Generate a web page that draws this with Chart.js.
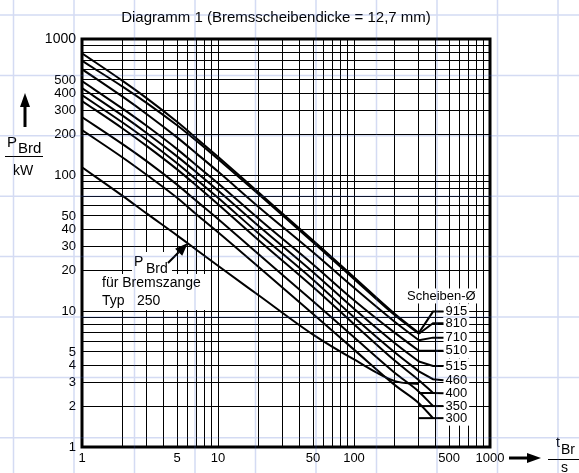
<!DOCTYPE html>
<html>
<head>
<meta charset="utf-8">
<script src="https://cdn.jsdelivr.net/npm/chart.js"></script>
<style>
  body { margin: 0; background: #fff; }
  #wrap { width: 579px; height: 473px; }
</style>
</head>
<body>
<div id="wrap"><canvas id="brakeChart" width="579" height="473"></canvas></div>
<script>
// t_Br in s (x) and P_Brd in kW (y), log-log
const tBr = [1, 2, 3, 5, 7, 10, 20, 50, 100, 200, 300];
const tBrLong = [1, 2, 3, 5, 7, 10, 20, 50, 100, 200, 300, 381];

const discSizes = ['915', '810', '710', '510', '515', '460', '400', '350', '300'];
const p915 = [785, 490, 366, 246, 185, 136, 74, 33, 17.7, 9.5, 6.9];
const p810 = [690, 445, 338, 232, 177, 131, 72, 32, 17.2, 9.3, 6.8];
const p710 = [600, 375, 280, 189, 143, 106, 58, 27, 14.8, 8.3, 6.1];
const p510 = [490, 306, 229, 155, 117, 87, 47.5, 22, 12, 6.9, 5.1];
const p515 = [435, 272, 203, 137, 104, 77, 42, 19.3, 10.4, 5.8, 4.25];
const p460 = [387, 242, 181, 122, 92, 68, 37, 17, 9.0, 4.95, 3.6];
const p400 = [350, 219, 163, 110, 83, 61, 33, 15.0, 8.0, 4.3, 3.1, 2.5];
const p350 = [267, 168, 126, 85, 64, 47.5, 26, 11.8, 6.4, 3.5, 2.55, 2.0];
const p300 = [214, 134, 100, 68, 51, 38, 21, 9.5, 5.2, 2.85, 2.1, 1.63];
const pTyp250 = [114, 70, 52, 36, 28, 21.5, 13, 6.7, 4.4, 3.05, 2.9];

// leaders from curve ends to the size labels
const leaderX = [300, 381, 455];
const leader915 = [6.9, 9.9, 9.9];
const leader810 = [6.8, 8.12, 8.12];
const leader710 = [6.1, 6.37, 6.37];
const leader510 = [5.1, 5.1, 5.1];
const leader515 = [4.25, 3.94, 3.94];
const leader460 = [3.6, 3.15, 3.1];
const leader400 = [2.5, 2.5, 2.48];
const leader350 = [2.0, 2.0, 2.0];
const leader300 = [1.63, 1.63, 1.63];

const xTickLabels = [1, 5, 10, 50, 100, 500, 1000];
const yTickLabels = [1, 2, 3, 4, 5, 10, 20, 30, 40, 50, 100, 200, 300, 400, 500, 1000];

const FONT = '"Liberation Sans", Arial, sans-serif';

// grid at 1..9 of every decade
const gridValues = [];
for (let d = 1; d < 1000; d *= 10) {
  for (let m = 1; m < 10; m++) gridValues.push(m * d);
}
gridValues.push(1000);

function pts(xs, ys) {
  return ys.map((y, i) => ({ x: xs[i], y: y }));
}

const curveSets = [
  pts(tBr, p915), pts(tBr, p810), pts(tBr, p710), pts(tBr, p510), pts(tBr, p515),
  pts(tBr, p460), pts(tBrLong, p400), pts(tBrLong, p350), pts(tBrLong, p300)
];
const leaderSets = [leader915, leader810, leader710, leader510, leader515,
  leader460, leader400, leader350, leader300];

const datasets = [];
curveSets.forEach((d, i) => {
  datasets.push({
    label: discSizes[i], data: d, borderColor: '#000', borderWidth: 2,
    pointRadius: 0, cubicInterpolationMode: 'monotone'
  });
});
datasets.push({
  label: 'Typ 250', data: pts(tBr, pTyp250), borderColor: '#000', borderWidth: 2,
  pointRadius: 0, cubicInterpolationMode: 'monotone'
});
leaderSets.forEach((l, i) => {
  datasets.push({
    label: 'leader ' + discSizes[i], data: pts(leaderX, l), borderColor: '#000',
    borderWidth: 2, pointRadius: 0, tension: 0
  });
});

function whiteText(ctx, text, x, y, size) {
  ctx.font = size + 'px ' + FONT;
  const w = ctx.measureText(text).width;
  ctx.fillStyle = '#fff';
  ctx.fillRect(x - 2, y - size / 2 - 1, w + 4, size + 2);
  ctx.fillStyle = '#000';
  ctx.textBaseline = 'middle';
  ctx.textAlign = 'left';
  ctx.fillText(text, x, y);
}

function arrow(ctx, x0, y0, x1, y1, headLen, headHalf, width) {
  const a = Math.atan2(y1 - y0, x1 - x0);
  const bx = x1 - headLen * Math.cos(a), by = y1 - headLen * Math.sin(a);
  ctx.strokeStyle = '#000';
  ctx.lineWidth = width;
  ctx.beginPath();
  ctx.moveTo(x0, y0);
  ctx.lineTo(bx, by);
  ctx.stroke();
  ctx.fillStyle = '#000';
  ctx.beginPath();
  ctx.moveTo(x1, y1);
  ctx.lineTo(bx + headHalf * Math.sin(a), by - headHalf * Math.cos(a));
  ctx.lineTo(bx - headHalf * Math.sin(a), by + headHalf * Math.cos(a));
  ctx.closePath();
  ctx.fill();
}

const decor = {
  id: 'decor',
  beforeDraw(chart) {
    const ctx = chart.ctx;
    ctx.save();
    ctx.fillStyle = '#fff';
    ctx.fillRect(0, 0, chart.width, chart.height);
    ctx.restore();
  },
  beforeDatasetsDraw(chart) {
    const ctx = chart.ctx;
    const xs = chart.scales.x, ys = chart.scales.y;
    ctx.save();
    // size labels
    whiteText(ctx, 'Scheiben-Ø', xs.getPixelForValue(429) - 33, ys.getPixelForValue(12.9), 13);
    const lx = xs.getPixelForValue(leaderX[2]) + 2;
    leaderSets.forEach((l, i) => {
      whiteText(ctx, discSizes[i], lx, ys.getPixelForValue(l[2]), 13);
    });
    // caliper label
    ctx.fillStyle = '#fff';
    ctx.fillRect(132, 252, 40, 22);
    ctx.fillRect(99, 274, 110, 36);
    ctx.fillStyle = '#000';
    ctx.textBaseline = 'alphabetic';
    ctx.font = '14px ' + FONT;
    ctx.fillText('P', 134, 266);
    ctx.fillText('Brd', 146, 273);
    ctx.fillText('für Bremszange', 102, 287);
    ctx.fillText('Typ', 102, 305);
    ctx.fillText('250', 137, 305);
    ctx.restore();
  },
  afterDraw(chart) {
    const ctx = chart.ctx;
    const a = chart.chartArea;
    const xs = chart.scales.x, ys = chart.scales.y;
    ctx.save();
    // frame
    ctx.strokeStyle = '#000';
    ctx.lineWidth = 3;
    ctx.strokeRect(a.left, a.top, a.right - a.left, a.bottom - a.top);
    // caliper arrow to its curve
    arrow(ctx, 168, 263, xs.getPixelForValue(6), ys.getPixelForValue(31.6), 13, 5, 2);
    // title
    ctx.fillStyle = '#000';
    ctx.font = '15px ' + FONT;
    ctx.textAlign = 'center';
    ctx.textBaseline = 'middle';
    ctx.fillText('Diagramm 1 (Bremsscheibendicke = 12,7 mm)', 276, 18);
    // y axis title
    arrow(ctx, 25, 127, 25, 93, 14, 5, 3);
    ctx.textAlign = 'left';
    ctx.textBaseline = 'alphabetic';
    ctx.font = '15px ' + FONT;
    ctx.fillText('P', 7, 147);
    ctx.fillText('Brd', 18, 153);
    ctx.lineWidth = 1;
    ctx.beginPath();
    ctx.moveTo(5, 156.5);
    ctx.lineTo(43, 156.5);
    ctx.stroke();
    ctx.font = '14px ' + FONT;
    ctx.fillText('kW', 13, 175);
    // x axis title
    arrow(ctx, 509, 458, 541, 458, 14, 5, 3);
    ctx.font = '14px ' + FONT;
    ctx.fillText('t', 556, 447);
    ctx.fillText('Br', 561, 454);
    ctx.lineWidth = 1;
    ctx.beginPath();
    ctx.moveTo(548, 459.5);
    ctx.lineTo(579, 459.5);
    ctx.stroke();
    ctx.fillText('s', 561, 472);
    // graph paper behind the scan
    ctx.strokeStyle = 'rgba(60, 90, 200, 0.22)';
    ctx.lineWidth = 1.5;
    ctx.beginPath();
    for (let k = 0; k < 10; k++) {
      const gx = 13.5 + 60.5 * k;
      ctx.moveTo(gx, 0);
      ctx.lineTo(gx, chart.height);
    }
    for (let k = 0; k < 8; k++) {
      const gy = 15 + 60.4 * k;
      ctx.moveTo(0, gy);
      ctx.lineTo(chart.width, gy);
    }
    ctx.stroke();
    ctx.restore();
  }
};

function logAxis(labels, fitFn, fontFn) {
  return {
    type: 'logarithmic',
    min: 1,
    max: 1000,
    border: { display: false },
    grid: { color: '#000', lineWidth: 1, drawTicks: false },
    ticks: {
      autoSkip: false,
      maxRotation: 0,
      color: '#000',
      font: fontFn,
      callback: v => labels.includes(v) ? String(v) : ''
    },
    afterBuildTicks: s => { s.ticks = gridValues.map(v => ({ value: v })); },
    afterFit: fitFn
  };
}

const xAxis = logAxis(xTickLabels, s => { s.height = 26; }, { family: FONT, size: 13 });
xAxis.ticks.padding = 4;
const yAxis = logAxis(yTickLabels, s => { s.width = 82; },
  c => ({ family: FONT, size: c.tick && c.tick.value === 1000 ? 14 : 13 }));
yAxis.ticks.padding = 6;

new Chart(document.getElementById('brakeChart').getContext('2d'), {
  type: 'line',
  data: { datasets: datasets },
  options: {
    responsive: false,
    animation: false,
    devicePixelRatio: 1,
    layout: { padding: { top: 39, right: 89, bottom: 0, left: 0 } },
    plugins: { legend: { display: false }, tooltip: { enabled: false } },
    scales: { x: xAxis, y: yAxis }
  },
  plugins: [decor]
});
</script>
</body>
</html>
